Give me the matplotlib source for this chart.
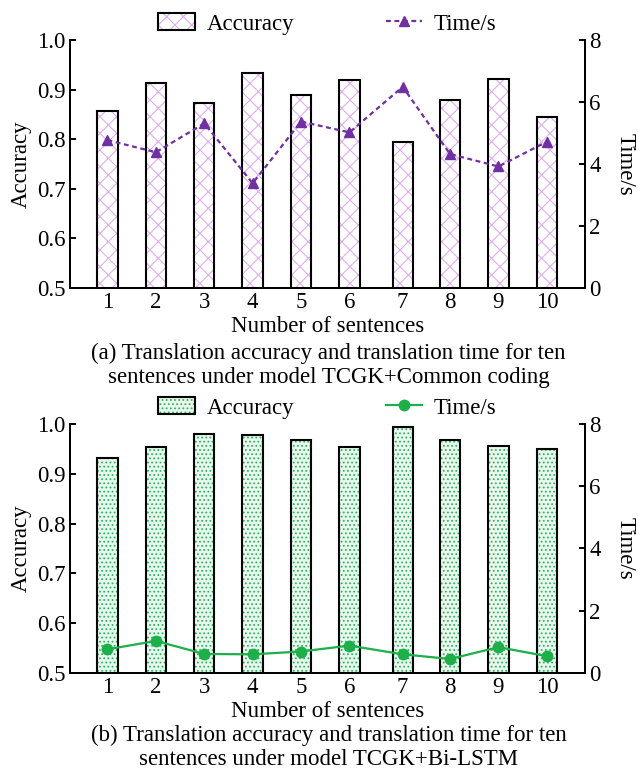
import matplotlib
matplotlib.use("Agg")
import matplotlib.pyplot as plt
from matplotlib.patches import Patch
from matplotlib.lines import Line2D

# data
sentences = ["1", "2", "3", "4", "5", "6", "7", "8", "9", "10"]
x_pos = [1, 2, 3, 4, 5, 6, 7.1, 8.08, 9.08, 10.08]

acc_common = [0.857, 0.913, 0.874, 0.933, 0.889, 0.919, 0.795, 0.880, 0.921, 0.845]
time_common = [4.77, 4.38, 5.31, 3.38, 5.37, 5.02, 6.49, 4.32, 3.92, 4.72]

acc_lstm = [0.931, 0.954, 0.980, 0.977, 0.968, 0.954, 0.993, 0.968, 0.956, 0.950]
time_lstm = [0.76, 1.03, 0.61, 0.60, 0.69, 0.88, 0.60, 0.45, 0.83, 0.54]

captions = [
    "(a) Translation accuracy and translation time for ten\nsentences under model TCGK+Common coding",
    "(b) Translation accuracy and translation time for ten\nsentences under model TCGK+Bi-LSTM",
]

plt.rcParams["font.family"] = ["Liberation Serif", "DejaVu Serif"]
plt.rcParams["font.size"] = 16.5
plt.rcParams["hatch.linewidth"] = 0.8

fig = plt.figure(figsize=(6.38, 7.7), dpi=100)

panels = [
    dict(rect=[0.1097, 0.626, 0.807, 0.322], acc=acc_common, time=time_common,
         face="white", hatch="xx", hcol="#dcb0ea",
         line=dict(color="#7030a0", linestyle=(0, (2.2, 1.6)), marker="^", markersize=7, linewidth=1.6),
         cap_y=0.525),
    dict(rect=[0.1097, 0.126, 0.807, 0.3234], acc=acc_lstm, time=time_lstm,
         face="#e9f7ee", hatch="....", hcol="#2eb55e",
         line=dict(color="#1db04a", linestyle="-", marker="o", markersize=7.5, linewidth=1.6),
         cap_y=0.029),
]

for i, p in enumerate(panels):
    ax = fig.add_axes(p["rect"])
    ax2 = ax.twinx()

    # hatched fill first, black outline on top
    ax.bar(x_pos, p["acc"], 0.42, color=p["face"], edgecolor=p["hcol"], hatch=p["hatch"], linewidth=0, zorder=2)
    ax.bar(x_pos, p["acc"], 0.42, fill=False, edgecolor="black", linewidth=1.5, zorder=3)
    ax2.plot(x_pos, p["time"], **p["line"], zorder=4)

    ax.set_xlim(0.225, 10.865)
    ax.set_ylim(0.5, 1.0)
    ax.set_yticks([0.5, 0.6, 0.7, 0.8, 0.9, 1.0])
    ax.set_yticklabels(["0.5", "0.6", "0.7", "0.8", "0.9", "1.0"])
    ax2.set_ylim(0, 8)
    ax2.set_yticks([0, 2, 4, 6, 8])
    ax.set_xticks(x_pos)
    ax.set_xticklabels(sentences)

    for a in (ax, ax2):
        a.spines["top"].set_visible(False)
        for s in ("left", "right", "bottom"):
            a.spines[s].set_linewidth(1.4)
        a.tick_params(axis="y", direction="in", length=4, width=1.4, pad=3)
    ax.tick_params(axis="x", length=0, pad=3)

    ax.set_ylabel("Accuracy", labelpad=4)
    ax2.set_ylabel("Time/s", rotation=270, labelpad=25)
    ax.set_xlabel("Number of sentences", labelpad=2)

    bar_h = (Patch(facecolor=p["face"], edgecolor=p["hcol"], hatch=p["hatch"], linewidth=0),
             Patch(fill=False, edgecolor="black", linewidth=1.5))
    line_h = Line2D([], [], **p["line"])
    ax.legend([bar_h, line_h], ["Accuracy", "Time/s"], ncol=2, frameon=False,
              loc="lower center", bbox_to_anchor=(0.5, 0.985), handlelength=1.6,
              handleheight=0.8, handletextpad=0.5, columnspacing=4.0, borderaxespad=0)

    fig.text(0.515, p["cap_y"], captions[i], ha="center", va="center", linespacing=1.2)

fig.savefig("out.png", dpi=100)
